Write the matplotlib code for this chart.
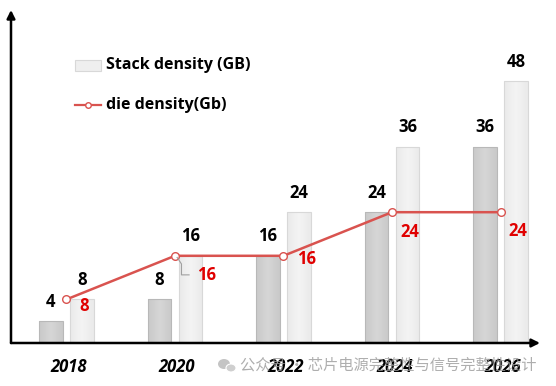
import numpy as np
import matplotlib
matplotlib.use("Agg")
import matplotlib.pyplot as plt
from matplotlib.colors import LinearSegmentedColormap
from matplotlib.patches import Ellipse

years = ["2018", "2020", "2022", "2024", "2026"]
left_vals = [4, 8, 16, 24, 36]
stack_density = [8, 16, 24, 36, 48]
die_density = [8, 16, 16, 24, 24]

FONT = ["Open Sans", "DejaVu Sans"]

W, H = 556, 386
fig = plt.figure(figsize=(W / 100, H / 100), dpi=100)
ax = fig.add_axes([11 / W, 43 / H, (540 - 11) / W, (376 - 43) / H])
for s in ax.spines.values():
    s.set_visible(False)
ax.set_xticks([])
ax.set_yticks([])

x = np.arange(len(years))
off, bw = 0.143, 0.22

def grad_bar(xc, h, c_left, c_right, edge):
    cmap = LinearSegmentedColormap.from_list("g", [c_left, c_right, c_left])
    grad = np.linspace(0, 1, 64).reshape(1, -1)
    bars = ax.bar([xc], [h], width=bw, color="none", edgecolor=edge, linewidth=0.8, zorder=3)
    r = bars[0]
    im = ax.imshow(grad, extent=[xc - bw / 2, xc + bw / 2, 0, h], aspect="auto",
                   cmap=cmap, zorder=2, interpolation="bicubic")
    im.set_clip_path(r)
    return r

for i in range(len(years)):
    grad_bar(x[i] - off, left_vals[i], "#c9c9c9", "#d6d6d6", "#b8b8b8")
    grad_bar(x[i] + off, stack_density[i], "#eaeaea", "#f4f4f4", "#d8d8d8")
ax.set_xlim(-0.511, 4.364)
ax.set_ylim(0, 61.1)

# value labels
for i in range(len(years)):
    ax.text(x[i] - off, left_vals[i] + 1.9, str(left_vals[i]), ha="center", va="bottom",
            fontsize=12, fontweight="bold", family=FONT, color="black", zorder=5)
    ax.text(x[i] + off, stack_density[i] + 1.9, str(stack_density[i]), ha="center", va="bottom",
            fontsize=12, fontweight="bold", family=FONT, color="black", zorder=5)

# die density line
ax.plot(x, die_density, color="#d9534f", lw=1.8, marker="o", ms=5.5,
        mfc="white", mec="#d9534f", mew=1.0, zorder=6)

red_offsets = [(0.16, -1.3), (0.29, -3.6), (0.21, -0.6), (0.16, -3.6), (0.16, -3.4)]
for i in range(len(years)):
    dx, dy = red_offsets[i]
    ax.text(x[i] + dx, die_density[i] + dy, str(die_density[i]), ha="center", va="center",
            fontsize=12, fontweight="bold", family=FONT, color="#e00000", zorder=7)
# leader line for 2020 label
ax.plot([x[1] + 0.02, x[1] + 0.06, x[1] + 0.06, x[1] + 0.13],
        [die_density[1] - 0.3, die_density[1] - 1.5, die_density[1] - 3.5, die_density[1] - 3.5],
        color="#a0a0a0", lw=0.8, zorder=6)

# x tick labels
for i in range(len(years)):
    ax.text(x[i] + 0.02, -4.4, years[i], ha="center", va="center", fontsize=12,
            fontweight="bold", fontstyle="italic", family=FONT, color="black",
            clip_on=False, zorder=8)

# axes arrows
ax.annotate("", xy=(0, 1.0), xytext=(0, 0), xycoords="axes fraction",
            arrowprops=dict(arrowstyle="-|>", color="black", lw=1.8, mutation_scale=12,
                            shrinkA=0, shrinkB=0), zorder=9, annotation_clip=False)
ax.annotate("", xy=(1.0, 0), xytext=(0, 0), xycoords="axes fraction",
            arrowprops=dict(arrowstyle="-|>", color="black", lw=1.8, mutation_scale=12,
                            shrinkA=0, shrinkB=0), zorder=9, annotation_clip=False)

# legend (manual)
fig.patches.append(plt.Rectangle((75 / W, 1 - 71 / H), 26 / W, 11 / H, transform=fig.transFigure,
                                 facecolor="#efefef", edgecolor="#d8d8d8", lw=0.8))
fig.text(106 / W, 1 - 65 / H, "Stack density (GB)", ha="left", va="center", fontsize=11.5,
         fontweight="bold", family=FONT)
fig.add_artist(plt.Line2D([75 / W, 101 / W], [1 - 105 / H, 1 - 105 / H], transform=fig.transFigure,
                          color="#d9534f", lw=1.6))
fig.add_artist(plt.Line2D([88 / W], [1 - 105 / H], transform=fig.transFigure, marker="o", ms=4,
                          mfc="white", mec="#d9534f", mew=1.0, color="#d9534f"))
fig.text(106 / W, 1 - 105 / H, "die density(Gb)", ha="left", va="center", fontsize=11.5,
         fontweight="bold", family=FONT)

# watermark
fig.patches.append(Ellipse((224 / W, 1 - 364 / H), 12 / W, 10 / H, transform=fig.transFigure,
                           facecolor="#c4c4c4", edgecolor="none", zorder=1))
fig.patches.append(Ellipse((231 / W, 1 - 368 / H), 10 / W, 8 / H, transform=fig.transFigure,
                           facecolor="#cfcfcf", edgecolor="white", lw=0.8, zorder=1))
fig.text(240 / W, 1 - 365 / H, "公众号 · 芯片电源完整性与信号完整性设计", ha="left", va="center",
         fontsize=11, family=["Noto Sans CJK SC", "DejaVu Sans"], color="#9a9a9a", alpha=0.8, zorder=1)

fig.savefig("out.png", dpi=100)
